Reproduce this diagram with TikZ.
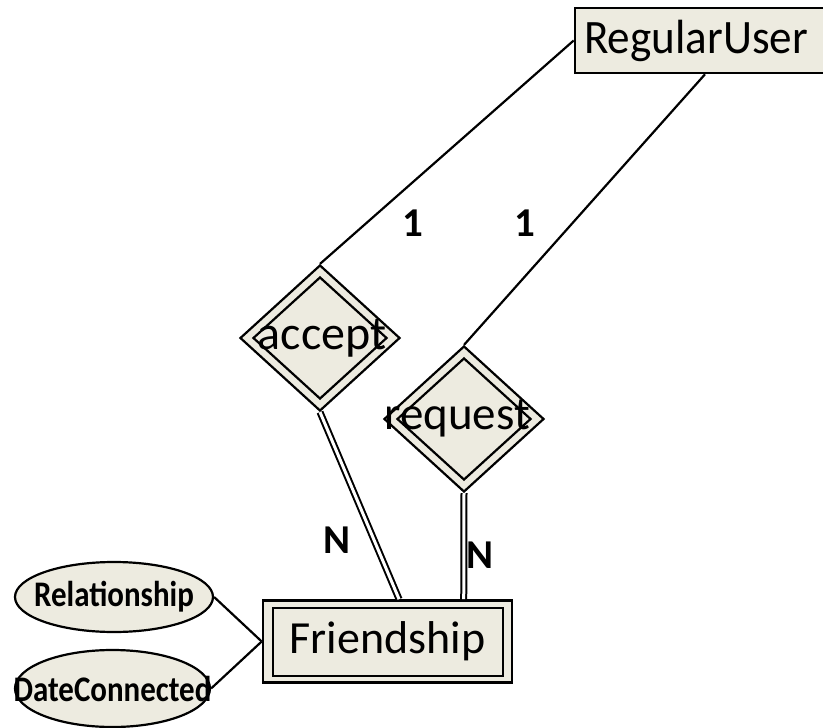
\documentclass[tikz,border=0pt]{standalone}
\usepackage{fontspec}
\setmainfont{Carlito}
\newfontfamily\narrowA{Carlito}[FakeStretch=0.94]
\newfontfamily\narrowB{Carlito}[FakeStretch=0.86]
\usetikzlibrary{shapes.geometric,calc}
\definecolor{erfill}{RGB}{237,235,224}
\begin{document}
\begin{tikzpicture}[x=1pt,y=-1pt,
  entouter/.style={rectangle, draw, fill=erfill, line width=2.6pt, inner sep=0pt},
  entinner/.style={rectangle, draw, line width=2pt, inner sep=0pt},
  relouter/.style={diamond, draw, fill=erfill, line width=2.2pt, inner sep=0pt, minimum width=160pt, minimum height=146pt},
  relinner/.style={diamond, draw, line width=2.2pt, inner sep=0pt, minimum width=134pt, minimum height=122pt},
  attr/.style={ellipse, draw, fill=erfill, line width=2.2pt, inner sep=0pt},
  bigtext/.style={inner sep=0pt},
  attrtext/.style={font=\narrowB\bfseries\fontsize{36}{40}\selectfont, inner sep=0pt},
  card/.style={font=\bfseries\fontsize{41}{46}\selectfont, inner sep=0pt},
  link/.style={line width=2.2pt},
  total/.style={double, double distance=3pt, line width=2pt}
]
\useasboundingbox (0,0) rectangle (823,728);
% RegularUser
\node[entouter, minimum width=260pt, minimum height=65pt] (ru) at (705,40.5) {};
\node[bigtext, font=\narrowA\fontsize{48}{54}\selectfont] (rut) at (696,41) {RegularUser};
% accept
\node[relouter] (acc) at (320,338) {};
\node[relinner] (acci) at (acc.center) {};
\node[bigtext, font=\fontsize{48}{54}\selectfont] (acct) at (322,338) {accept};
% request
\node[relouter] (req) at (464,419) {};
\node[relinner] (reqi) at (req.center) {};
\node[bigtext, font=\fontsize{47}{54}\selectfont] (reqt) at (457,418) {request};
% Friendship
\node[entouter, minimum width=249pt, minimum height=82pt] (fr) at (387.5,641.5) {};
\node[entinner, minimum width=230pt, minimum height=68pt] (fri) at (fr.center) {};
\node[bigtext, font=\fontsize{46}{54}\selectfont] (frt) at (387.5,641) {Friendship};
% attributes
\node[attr, minimum width=198pt, minimum height=70pt] (rel) at (114,597) {};
\node[attrtext] (relt) at (114,597) {Relationship};
\node[attr, minimum width=195pt, minimum height=77pt] (dc) at (112.5,688.5) {};
\node[attrtext] (dct) at (112.5,689) {DateConnected};
% connectors
\draw[link] (ru.west) -- (acc.north);
\draw[link] (ru.south) -- (req.north);
\coordinate (fra) at ($(fr.north west)!0.546!(fr.north east)$);
\coordinate (frb) at ($(fr.north west)!0.803!(fr.north east)$);
\draw[total] (acc.south) -- (fra);
\draw[total] (req.south) -- (frb);
\draw[link] (rel.east) -- (fr.west);
\draw[link] (dc.east) -- (fr.west);
% cardinalities
\node[card] (c1) at (413,223) {1};
\node[card] (c2) at (525,223) {1};
\node[card] (c3) at (337,540) {N};
\node[card] (c4) at (480,555) {N};
\end{tikzpicture}
\end{document}
